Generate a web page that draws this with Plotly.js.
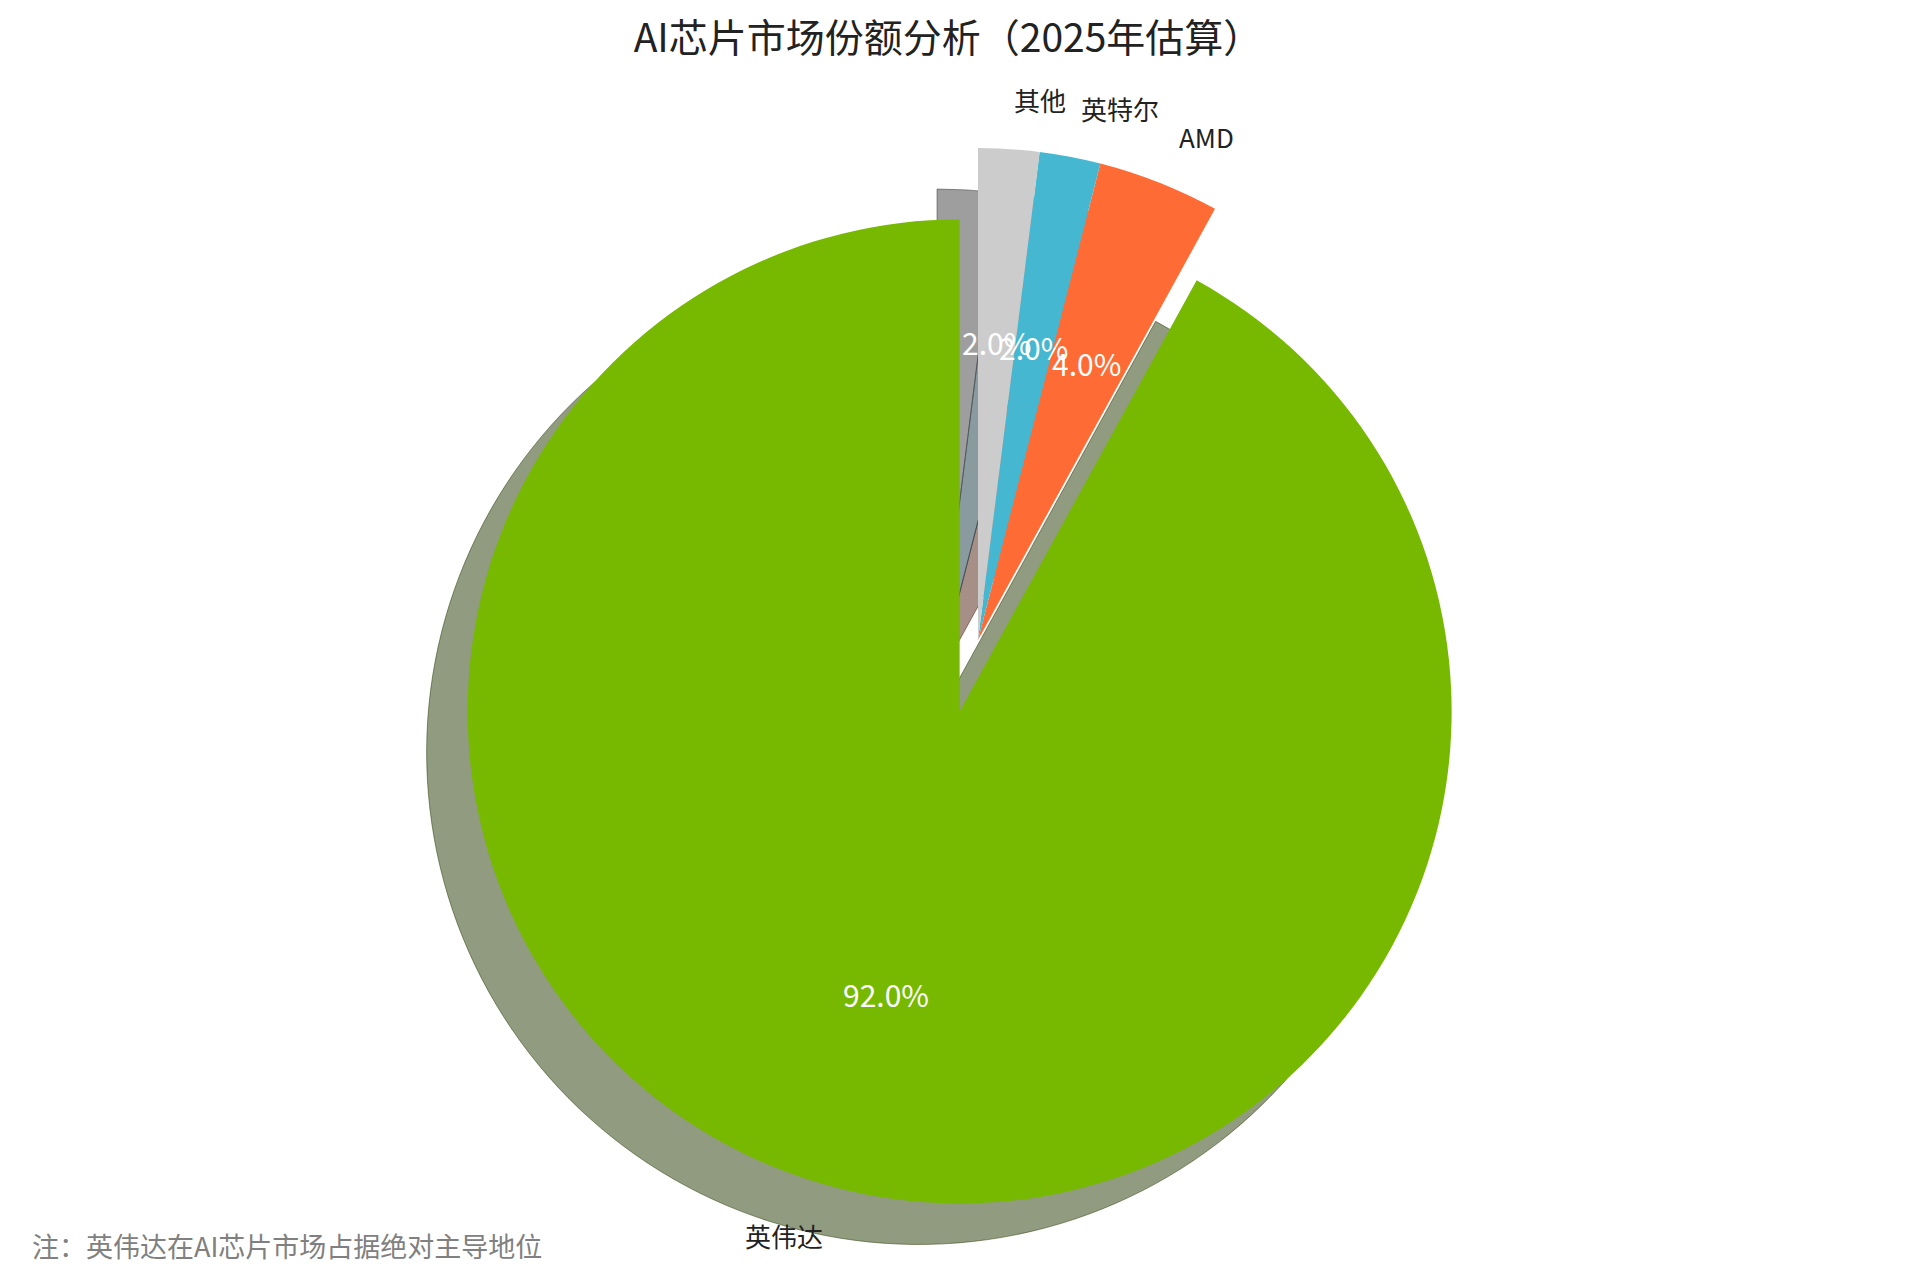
<!DOCTYPE html>
<html>
<head>
<meta charset="utf-8">
<script src="https://cdn.plot.ly/plotly-3.0.1.min.js"></script>
<style>html,body{margin:0;padding:0;background:#fff;}#chart{width:1920px;height:1277px;}</style>
</head>
<body>
<div id="chart"></div>
<script>
// ---- data ----
const labels = ["英伟达", "AMD", "英特尔", "其他"];
const shares = [92, 4, 2, 2];
const colors = ["#76B900", "#FF6B35", "#45B7D1", "#CCCCCC"];
const pulls = [0.15, 0, 0, 0];
const titleText = "AI芯片市场份额分析（2025年估算）";
const noteText = "注：英伟达在AI芯片市场占据绝对主导地位";

// ---- geometry (pixels) ----
const W = 1920, H = 1277;
const cx = 978, cy = 640, R = 492;        // unpulled centre and radius
const shadowOff = 41;                      // shadow shift left / down
const FONT = "Noto Sans CJK SC, Noto Sans, sans-serif";

const total = shares.reduce((a, b) => a + b, 0);
const maxPull = Math.max(...pulls);
const half = R * (1 + maxPull);
function domainFor(px, py) {
  return {
    x: [(px - half) / W, (px + half) / W],
    y: [(H - py - half) / H, (H - py + half) / H]
  };
}
function shade(hex) {
  const n = parseInt(hex.slice(1), 16);
  const r = (n >> 16) & 255, g = (n >> 8) & 255, b = n & 255;
  return `rgba(${Math.round(r * 0.3)},${Math.round(g * 0.3)},${Math.round(b * 0.3)},0.5)`;
}
const shadowColors = colors.map(shade);

// first slice starts at 12 o'clock and runs counter-clockwise
// (plotly anchors the END of the first ccw slice at `rotation`)
const rot = 360 - shares[0] / total * 360;

const base = {
  type: "pie",
  values: shares,
  labels: labels,
  sort: false,
  direction: "counterclockwise",
  rotation: rot,
  pull: pulls,
  textinfo: "none",
  hoverinfo: "skip",
  showlegend: false
};

const shadowTrace = Object.assign({}, base, {
  marker: { colors: shadowColors, line: { width: 1, color: shadowColors } },
  domain: domainFor(cx - shadowOff, cy + shadowOff)
});
const mainTrace = Object.assign({}, base, {
  marker: { colors: colors, line: { width: 0 } },
  domain: domainFor(cx, cy)
});

// ---- labels computed from the values ----
const annotations = [];
let start = 90;
shares.forEach((v, i) => {
  const span = v / total * 360;
  const mid = (start + span / 2) * Math.PI / 180;
  start += span;
  const ox = cx + pulls[i] * R * Math.cos(mid);
  const oy = cy - pulls[i] * R * Math.sin(mid);
  const lx = ox + 1.1 * R * Math.cos(mid);
  const ly = oy - 1.1 * R * Math.sin(mid);
  const px = ox + 0.6 * R * Math.cos(mid);
  const py = oy - 0.6 * R * Math.sin(mid);
  annotations.push({
    xref: "paper", yref: "paper", x: lx / W, y: 1 - ly / H,
    xanchor: Math.cos(mid) > 0 ? "left" : "right", yanchor: "middle",
    text: labels[i], showarrow: false,
    font: { family: FONT, size: 26, color: "#222222" }
  });
  annotations.push({
    xref: "paper", yref: "paper", x: px / W, y: 1 - (py - 3) / H,
    xanchor: "center", yanchor: "middle",
    text: (v / total * 100).toFixed(1) + "%", showarrow: false,
    font: { family: FONT, size: 30, color: "#FFFFFF" }
  });
});
annotations.push({
  xref: "paper", yref: "paper", x: 30 / W, y: 1 - 1245 / H,
  xanchor: "left", yanchor: "middle",
  text: noteText, showarrow: false,
  font: { family: FONT, size: 27, color: "#808080" }
});

const layout = {
  width: W, height: H,
  margin: { l: 0, r: 0, t: 0, b: 0 },
  paper_bgcolor: "#FFFFFF",
  title: {
    text: titleText,
    x: 948 / W, xanchor: "center", xref: "paper",
    y: 1 - 38 / H, yanchor: "middle", yref: "container",
    font: { family: FONT, size: 39, color: "#222222" }
  },
  annotations: annotations
};

Plotly.newPlot("chart", [shadowTrace, mainTrace], layout, { staticPlot: true, displayModeBar: false });
</script>
</body>
</html>
